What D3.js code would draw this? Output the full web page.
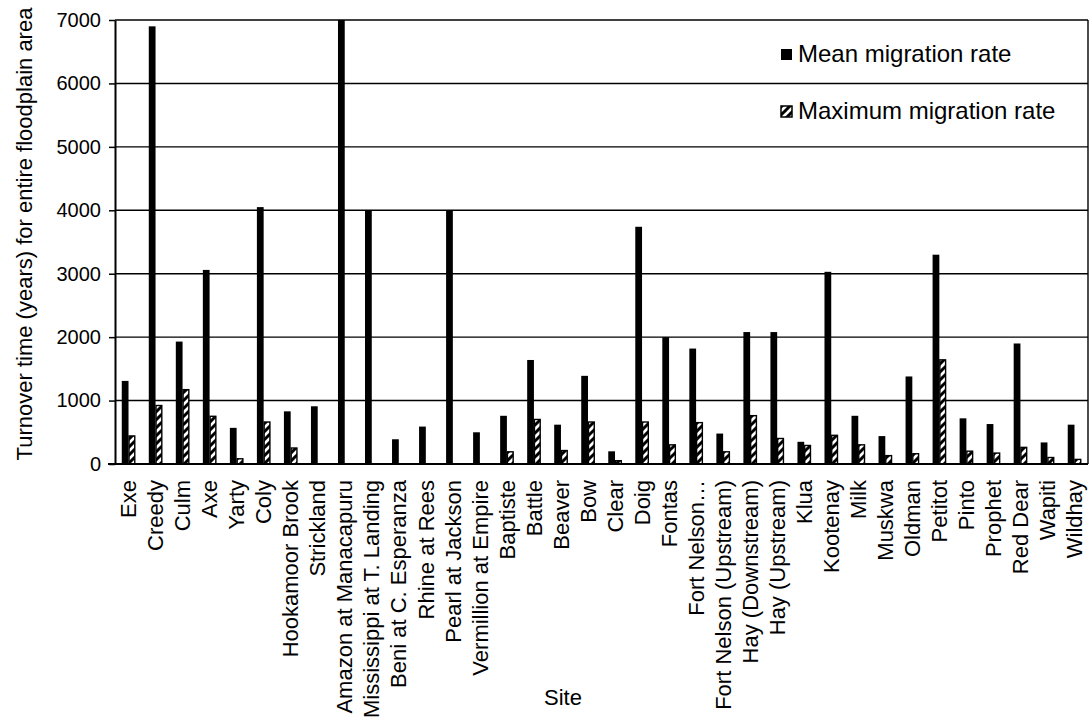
<!DOCTYPE html>
<html>
<head>
<meta charset="utf-8">
<script src="https://cdn.jsdelivr.net/npm/d3@7"></script>
<style>
  html, body { margin: 0; padding: 0; background: #fff; }
  svg { display: block; font-family: "Liberation Sans", Arial, sans-serif; }
</style>
</head>
<body>
<svg id="chart" width="1092" height="720"></svg>
<script>
// Sites along the x axis
const sites = [
  "Exe", "Creedy", "Culm", "Axe", "Yarty", "Coly", "Hookamoor Brook", "Strickland",
  "Amazon at Manacapuru", "Mississippi at T. Landing", "Beni at C. Esperanza",
  "Rhine at Rees", "Pearl at Jackson", "Vermillion at Empire", "Baptiste", "Battle",
  "Beaver", "Bow", "Clear", "Doig", "Fontas", "Fort Nelson\u2026", "Fort Nelson (Upstream)",
  "Hay (Downstream)", "Hay (Upstream)", "Klua", "Kootenay", "Milk", "Muskwa", "Oldman",
  "Petitot", "Pinto", "Prophet", "Red Dear", "Wapiti", "Wildhay"
];

// Turnover time (years) based on the mean migration rate
const meanRate = [
  1310, 6900, 1930, 3060, 570, 4050, 830, 910,
  7000, 4000, 390,
  590, 4000, 500, 760, 1640,
  620, 1390, 200, 3740, 2000, 1820, 480,
  2080, 2080, 350, 3030, 760, 440, 1380,
  3300, 720, 630, 1900, 340, 620
];

// Turnover time (years) based on the maximum migration rate (0 = not available)
const maxRate = [
  450, 930, 1180, 760, 90, 670, 260, 0,
  0, 0, 0,
  0, 0, 0, 200, 710,
  220, 670, 60, 670, 310, 660, 200,
  770, 410, 300, 460, 310, 140, 170,
  1650, 210, 180, 270, 110, 80
];

const yTicks = [0, 1000, 2000, 3000, 4000, 5000, 6000, 7000];
const seriesNames = ["Mean migration rate", "Maximum migration rate"];

const svg = d3.select("#chart");
const plot = { left: 115, right: 1088, top: 20, bottom: 464 };

// Diagonal hatch used for the maximum-rate bars
const defs = svg.append("defs");
const hatch = defs.append("pattern")
  .attr("id", "hatch")
  .attr("patternUnits", "userSpaceOnUse")
  .attr("width", 8).attr("height", 8);
hatch.append("rect").attr("width", 8).attr("height", 8).attr("fill", "#fff");
hatch.append("path")
  .attr("d", "M-2,10 L10,-2 M-2,2 L2,-2 M6,10 L10,6")
  .attr("stroke", "#000").attr("stroke-width", 3);

const x0 = d3.scaleBand()
  .domain(sites)
  .range([plot.left, plot.right])
  .paddingInner(0.5)
  .paddingOuter(0.25);

const x1 = d3.scaleBand()
  .domain(["mean", "max"])
  .range([0, x0.bandwidth()]);

const y = d3.scaleLinear()
  .domain([0, 7000])
  .range([plot.bottom, plot.top]);

// Horizontal gridlines
svg.append("g")
  .selectAll("line")
  .data(yTicks.filter(t => t > 0))
  .join("line")
  .attr("x1", plot.left).attr("x2", plot.right)
  .attr("y1", d => y(d)).attr("y2", d => y(d))
  .attr("stroke", "#000").attr("stroke-width", 1.4);

// Right border of the plot area
svg.append("line")
  .attr("x1", plot.right).attr("x2", plot.right)
  .attr("y1", plot.top).attr("y2", plot.bottom)
  .attr("stroke", "#000").attr("stroke-width", 1.4);

const rows = sites.map((s, i) => ({ site: s, mean: meanRate[i], max: maxRate[i] }));

// Mean migration rate bars
svg.append("g")
  .selectAll("rect")
  .data(rows)
  .join("rect")
  .attr("x", d => x0(d.site) + x1("mean"))
  .attr("width", x1.bandwidth())
  .attr("y", d => y(Math.min(d.mean, 7000)))
  .attr("height", d => y(0) - y(Math.min(d.mean, 7000)))
  .attr("fill", "#000");

// Maximum migration rate bars
svg.append("g")
  .selectAll("rect")
  .data(rows.filter(d => d.max > 0))
  .join("rect")
  .attr("x", d => x0(d.site) + x1("max") + 0.5)
  .attr("width", x1.bandwidth() - 1)
  .attr("y", d => y(d.max) + 0.5)
  .attr("height", d => Math.max(0, y(0) - y(d.max) - 0.5))
  .attr("fill", "url(#hatch)")
  .attr("stroke", "#000").attr("stroke-width", 1.4);

// Y axis
const yAxis = svg.append("g")
  .attr("transform", `translate(${plot.left},0)`)
  .call(d3.axisLeft(y).tickValues(yTicks).tickSize(6).tickPadding(8).tickSizeOuter(0)
    .tickFormat(d3.format("d")));
yAxis.select(".domain").attr("stroke", "#000").attr("stroke-width", 2);
yAxis.selectAll(".tick line").attr("stroke", "#000").attr("stroke-width", 1.5);
yAxis.selectAll(".tick text")
  .attr("font-size", 20).attr("fill", "#000")
  .attr("font-family", "'Liberation Sans', Arial, sans-serif");

// X axis
const xAxis = svg.append("g")
  .attr("transform", `translate(0,${plot.bottom})`)
  .call(d3.axisBottom(x0).tickSize(0).tickPadding(0).tickSizeOuter(0));
xAxis.select(".domain").attr("stroke", "#000").attr("stroke-width", 2)
  .attr("d", `M${plot.left - 7},0H${plot.right}`);
xAxis.selectAll(".tick text")
  .attr("font-size", 22).attr("fill", "#000")
  .attr("font-family", "'Liberation Sans', Arial, sans-serif")
  .attr("text-anchor", "end")
  .attr("transform", "translate(0,16) rotate(-90)")
  .attr("x", 0).attr("y", 0)
  .attr("dy", "0.35em");

// Axis titles
svg.append("text")
  .attr("transform", "translate(32,234) rotate(-90)")
  .attr("text-anchor", "middle")
  .attr("font-size", 22).attr("fill", "#000")
  .text("Turnover time (years) for entire floodplain area");

svg.append("text")
  .attr("x", 563).attr("y", 705)
  .attr("text-anchor", "middle")
  .attr("font-size", 22).attr("fill", "#000")
  .text("Site");

// Legend
const legend = svg.append("g");
const legendY = [49, 106];
legend.selectAll("rect")
  .data(seriesNames)
  .join("rect")
  .attr("x", 781).attr("y", (d, i) => legendY[i])
  .attr("width", 11).attr("height", 11)
  .attr("fill", (d, i) => i === 0 ? "#000" : "url(#hatch)")
  .attr("stroke", (d, i) => i === 0 ? "none" : "#000")
  .attr("stroke-width", 1.5);
legend.selectAll("text")
  .data(seriesNames)
  .join("text")
  .attr("x", 798).attr("y", (d, i) => legendY[i] + 13)
  .attr("font-size", 24).attr("fill", "#000")
  .text(d => d);
</script>
</body>
</html>
